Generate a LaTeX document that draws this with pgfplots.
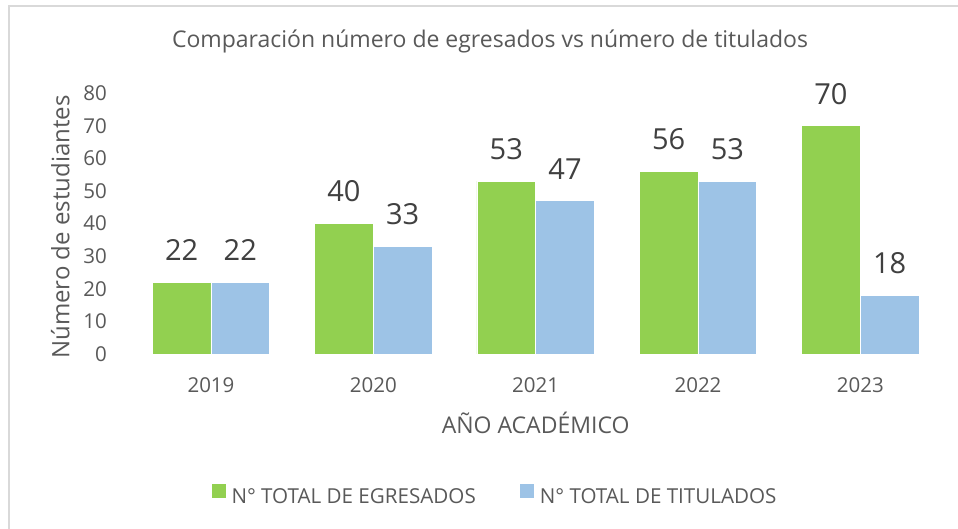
\documentclass[border=0pt]{standalone}
\usepackage{pgfplots}
\pgfplotsset{compat=1.18}
\usepackage{fontspec}
\setmainfont{Open Sans}
\definecolor{cgreen}{HTML}{92D050}
\definecolor{cblue}{HTML}{9DC3E6}
\definecolor{txt}{HTML}{595959}
\definecolor{lbl}{HTML}{404040}
\definecolor{framec}{HTML}{D9D9D9}
\begin{document}
\begin{tikzpicture}[x=1pt,y=1pt]
\useasboundingbox (0,0) rectangle (958,529);
\fill[white] (0,0) rectangle (958,529);
\draw[framec, line width=2pt] (958,522.5) -- (9,522.5) -- (9,0);
\begin{axis}[
  at={(129.8pt,175pt)}, anchor=south west,
  scale only axis, width=811.7pt, height=260.9pt,
  xmin=-0.5, xmax=4.5, ymin=0, ymax=80,
  enlargelimits=false, clip=false,
  axis line style={draw=none}, major tick length=0pt,
  xtick={0,1,2,3,4}, xticklabels={2019,2020,2021,2022,2023},
  ytick={0,10,...,80},
  /pgf/number format/assume math mode=true,
  tick label style={font=\fontsize{20.5}{24}\selectfont, text=txt, inner sep=0pt},
  yticklabel style={anchor=east, xshift=-22.8pt},
  xticklabel style={anchor=north, yshift=-23.7pt},
  title={Comparación número de egresados vs número de titulados},
  title style={at={(axis description cs:0.4438,1.1525)}, anchor=base, font=\fontsize{23}{28}\selectfont, text=txt, inner sep=0pt},
  xlabel={AÑO ACADÉMICO},
  every axis x label/.style={at={(axis description cs:0.5,-0.3039)}, anchor=base, font=\fontsize{23}{27}\selectfont, text=txt, inner sep=0pt},
  ylabel={Número de estudiantes},
  every axis y label/.style={at={(axis description cs:-0.0745,0.4868)}, rotate=90, anchor=base, font=\fontsize{24}{28}\selectfont, text=txt, inner sep=0pt},
  nodes near coords,
  every node near coord/.append style={anchor=south, yshift=21pt, inner sep=0pt, font=\fontsize{29}{34}\selectfont, text=lbl},
  legend columns=2,
  legend style={at={(axis description cs:0.4487,-0.5393)}, anchor=center, draw=none, fill=none, inner sep=0pt, font=\fontsize{20.6}{24}\selectfont, text=txt, nodes={inner sep=0pt}},
  legend image code/.code={\fill[#1,draw=none] (0pt,-1pt) rectangle (14pt,13pt);},
]
\addplot[ybar, fill=cgreen, draw=white, line width=0.6pt, bar width=58.7pt, bar shift=-29.35pt,
  nodes near coords style={xshift=-29.35pt}] coordinates {(0,22) (1,40) (2,53) (3,56) (4,70)};
\addlegendentry{\kern6pt N° TOTAL DE EGRESADOS\kern44pt\null}
\addplot[ybar, fill=cblue, draw=white, line width=0.6pt, bar width=58.7pt, bar shift=29.35pt,
  nodes near coords style={xshift=29.35pt}] coordinates {(0,22) (1,33) (2,47) (3,53) (4,18)};
\addlegendentry{\kern6pt N° TOTAL DE TITULADOS}
\end{axis}
\end{tikzpicture}
\end{document}
